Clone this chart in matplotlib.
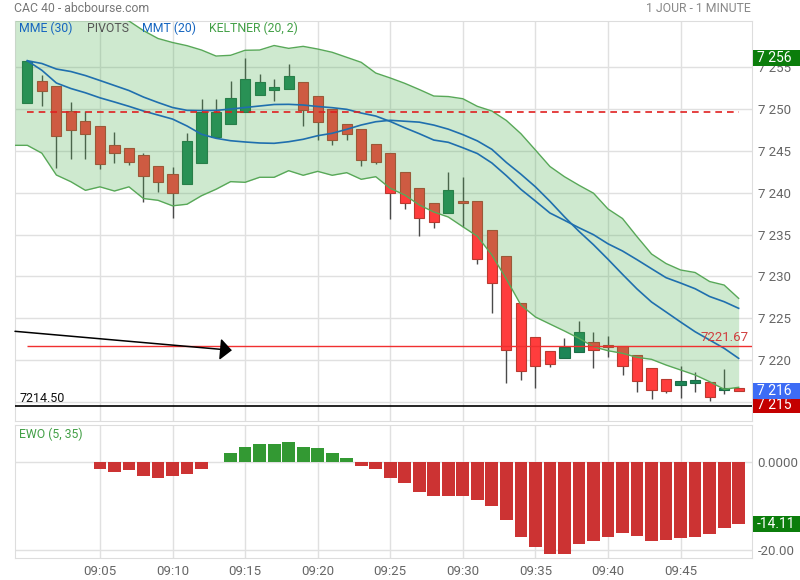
import numpy as np
import matplotlib.pyplot as plt
from matplotlib.patches import Rectangle
from matplotlib.ticker import FuncFormatter

plt.rcParams['font.family'] = ['Roboto', 'DejaVu Sans']

# CAC 40, bougies 1 minute de 09:00 a 09:49
opens = [7250.68, 7253.31, 7252.71, 7249.73, 7248.53, 7247.93, 7245.66, 7245.30, 7244.47, 7243.15,
         7242.20, 7241.07, 7243.58, 7246.62, 7248.17, 7249.68, 7251.64, 7252.31, 7252.43, 7253.19,
         7251.52, 7250.00, 7248.17, 7247.57, 7245.78, 7244.71, 7242.43, 7240.53, 7238.73, 7237.63,
         7238.97, 7238.97, 7235.50, 7232.40, 7226.78, 7222.72, 7221.04, 7220.20, 7220.92, 7222.12,
         7221.79, 7221.67, 7220.60, 7219.01, 7217.69, 7216.98, 7217.22, 7217.34, 7216.47, 7216.62]
highs = [7255.77, 7254.10, 7252.71, 7250.84, 7249.76, 7247.93, 7247.25, 7245.30, 7244.71, 7243.15,
         7243.07, 7247.13, 7251.16, 7251.16, 7253.35, 7256.10, 7254.18, 7253.55, 7255.38, 7253.19,
         7251.52, 7250.00, 7248.17, 7247.57, 7245.78, 7244.71, 7242.43, 7240.53, 7238.73, 7242.47,
         7241.87, 7238.97, 7235.50, 7232.40, 7226.78, 7222.72, 7221.04, 7222.59, 7224.66, 7223.35,
         7222.90, 7221.67, 7220.60, 7219.01, 7217.69, 7219.25, 7218.57, 7217.34, 7218.92, 7216.62]
lows = [7250.68, 7250.39, 7242.98, 7244.06, 7244.06, 7242.86, 7243.58, 7243.31, 7238.92, 7240.12,
        7237.03, 7241.07, 7243.58, 7246.62, 7248.17, 7249.68, 7251.64, 7250.99, 7252.43, 7248.00,
        7246.33, 7245.73, 7246.33, 7243.22, 7243.43, 7236.91, 7237.99, 7234.86, 7235.72, 7237.63,
        7235.93, 7231.44, 7225.65, 7217.22, 7217.61, 7216.60, 7219.20, 7220.20, 7220.92, 7219.08,
        7220.40, 7218.21, 7216.21, 7215.38, 7216.09, 7215.50, 7216.18, 7215.07, 7215.90, 7216.26]
closes = [7255.77, 7252.19, 7246.81, 7247.45, 7247.05, 7243.46, 7244.78, 7243.63, 7241.96, 7241.24,
          7240.00, 7246.14, 7249.61, 7249.61, 7251.28, 7253.55, 7253.19, 7252.59, 7253.94, 7249.92,
          7248.41, 7246.26, 7246.98, 7243.87, 7243.63, 7240.00, 7238.71, 7236.94, 7236.55, 7240.30,
          7238.80, 7232.04, 7229.17, 7221.14, 7218.65, 7219.34, 7219.49, 7221.56, 7223.31, 7221.23,
          7221.59, 7219.32, 7217.46, 7216.38, 7216.33, 7217.46, 7217.61, 7215.61, 7216.57, 7216.26]

# Keltner (20, 2)
kelt_up = [7266.61, 7265.42, 7264.22, 7263.39, 7262.43, 7261.71, 7261.12, 7260.52, 7259.37, 7258.43,
           7257.95, 7257.57, 7257.05, 7256.33, 7256.42, 7257.02, 7257.05, 7257.59, 7257.25, 7257.49,
           7257.17, 7256.78, 7256.18, 7255.58, 7254.30, 7253.71, 7253.07, 7252.33, 7251.55, 7251.49,
           7251.23, 7250.32, 7249.76, 7248.63, 7247.05, 7245.10, 7243.13, 7241.91, 7240.89, 7239.94,
           7238.05, 7236.91, 7234.74, 7232.67, 7231.53, 7230.76, 7230.46, 7229.38, 7228.96, 7227.37]
kelt_low = [7245.66, 7244.72, 7242.11, 7241.31, 7240.28, 7240.70, 7240.20, 7240.70, 7239.30, 7239.09,
            7238.43, 7238.62, 7239.64, 7240.41, 7241.32, 7241.24, 7241.84, 7241.84, 7242.63, 7242.08,
            7242.55, 7242.08, 7242.39, 7241.60, 7241.91, 7240.52, 7239.72, 7238.53, 7237.69, 7237.09,
            7235.93, 7234.79, 7232.55, 7229.68, 7226.57, 7225.14, 7224.30, 7223.47, 7222.59, 7221.59,
            7221.11, 7220.80, 7220.32, 7220.08, 7219.40, 7218.81, 7218.21, 7217.41, 7216.50, 7216.74]

# moyennes mobiles
mme30 = [7255.77, 7255.44, 7254.78, 7254.48, 7254.00, 7253.41, 7252.81, 7252.21, 7251.43, 7250.78,
         7250.18, 7249.84, 7249.81, 7249.83, 7250.00, 7250.18, 7250.36, 7250.54, 7250.56, 7250.48,
         7250.30, 7250.16, 7249.96, 7249.52, 7249.16, 7248.51, 7247.76, 7247.05, 7246.29, 7246.02,
         7245.37, 7244.68, 7243.55, 7242.03, 7240.40, 7239.00, 7237.57, 7236.70, 7235.81, 7234.98,
         7233.89, 7233.03, 7231.99, 7230.91, 7229.84, 7229.20, 7228.52, 7227.59, 7226.97, 7226.18]
mmt20 = [7255.77, 7254.63, 7253.11, 7252.45, 7251.94, 7251.34, 7250.84, 7250.32, 7249.76, 7249.28,
         7248.80, 7247.97, 7246.98, 7246.50, 7246.21, 7246.06, 7245.94, 7245.90, 7246.09, 7246.38,
         7246.81, 7247.10, 7247.57, 7248.09, 7248.48, 7248.65, 7248.54, 7248.43, 7248.08, 7247.59,
         7246.94, 7246.19, 7245.18, 7243.61, 7242.21, 7240.70, 7238.97, 7237.12, 7235.38, 7233.78,
         7232.04, 7230.24, 7228.49, 7226.93, 7225.74, 7224.54, 7223.38, 7222.39, 7221.40, 7220.20]

# EWO (5, 35)
ewo = [np.nan, np.nan, np.nan, np.nan, np.nan, -1.5, -2.2, -1.75, -3.1, -3.6,
       -3.1, -2.7, -1.5, 0.0, 2.05, 3.4, 4.1, 4.1, 4.5, 3.4,
       3.2, 2.05, 0.9, -0.85, -1.5, -3.6, -4.7, -6.75, -7.65, -7.65,
       -7.65, -8.55, -9.9, -13.1, -17.0, -19.25, -20.8, -20.8, -18.6, -17.9,
       -17.0, -16.1, -16.75, -17.9, -17.65, -17.2, -17.0, -16.3, -14.9, -14.11]

pivot = 7249.61
level_red = 7221.67
level_black = 7214.50
day_high = 7256
day_low = 7215
tick_pos = [5, 10, 15, 20, 25, 30, 35, 40, 45]
tick_labels = ['09:05', '09:10', '09:15', '09:20', '09:25', '09:30', '09:35', '09:40', '09:45']
arrow_start = (-0.85, 7223.43)
arrow_end = (14.09, 7221.16)

W, H = 800, 580
fig = plt.figure(figsize=(W / 100, H / 100), dpi=100)
ax = fig.add_axes([15 / W, 1 - 421 / H, 737 / W, 400 / H])
ax2 = fig.add_axes([15 / W, 1 - 558 / H, 737 / W, 133 / H])

x = np.arange(len(opens))
xmin, xmax = -0.85, 49.92

# bougies
for i in x:
    o, c = opens[i], closes[i]
    up = c >= o
    col = '#1d8657' if up else '#ff3d3d'
    edge = '#1b6e47' if up else '#b83a30'
    ax.vlines(i, lows[i], highs[i], color='#4a4a4a', lw=1, zorder=2)
    body = max(abs(c - o), 0.22)
    ax.bar(i, body, bottom=min(o, c), width=0.7, color=col, edgecolor=edge, lw=0.8, zorder=3)

# bande de Keltner
xb = np.r_[xmin, x]
up_b = np.r_[kelt_up[0], kelt_up]
lo_b = np.r_[kelt_low[0], kelt_low]
ax.fill_between(xb, lo_b, up_b, color='#4caf50', alpha=0.27, lw=0, zorder=4)
ax.plot(xb, up_b, color='#58a858', lw=1, zorder=5)
ax.plot(xb, lo_b, color='#58a858', lw=1, zorder=5)

ax.plot(x, mme30, color='#1f6fae', lw=1.2, zorder=6)
ax.plot(x, mmt20, color='#1f6fae', lw=1.2, zorder=6)

ax.hlines(pivot, 0, 49, colors='#e02020', lw=1.2, linestyles=(0, (4, 3)), zorder=6)
ax.hlines(level_red, 0, xmax, colors='#f03030', lw=1, zorder=6)
ax.hlines(level_black, xmin, xmax, colors='black', lw=1.2, zorder=6)
ax.annotate('', xy=arrow_end, xytext=arrow_start, annotation_clip=False,
            arrowprops=dict(arrowstyle='-|>,head_length=0.6,head_width=0.55', color='black',
                            lw=1.1, mutation_scale=12, shrinkA=0, shrinkB=0), zorder=7)

ax.set_xlim(xmin, xmax)
ax.set_ylim(7212.71, 7260.52)
ax.set_yticks(range(7215, 7260, 5))
ax.yaxis.set_major_formatter(FuncFormatter(lambda v, p: f'{int(v):,}'.replace(',', ' ')))
ax.set_xticks(tick_pos)
ax.tick_params(axis='x', length=0, labelbottom=False)
ax.tick_params(axis='y', left=False, labelleft=False, right=True, labelright=True,
               length=0, pad=4, labelsize=9.5, labelcolor='#666666')

# EWO
ewo_arr = np.array(ewo)
cols = ['#339933' if v > 0 else '#cc3333' for v in np.nan_to_num(ewo_arr)]
ax2.bar(x, np.nan_to_num(ewo_arr), width=0.88, color=cols, zorder=3)
ax2.set_xlim(xmin, xmax)
ax2.set_ylim(-21.8, 8.41)
ax2.set_yticks([0, -20])
ax2.set_yticklabels(['0.0000', '-20.00'])
ax2.set_xticks(tick_pos)
ax2.set_xticklabels(tick_labels)
ax2.tick_params(axis='x', length=0, pad=5, labelsize=9.5, labelcolor='#666666')
ax2.tick_params(axis='y', left=False, labelleft=False, right=True, labelright=True,
                length=0, pad=4, labelsize=9.5, labelcolor='#666666')

for a in (ax, ax2):
    a.grid(color='#e0e0e0', lw=1, zorder=0)
    a.set_axisbelow(True)
    for s in a.spines.values():
        s.set_color('#dddddd')

# textes
def ftext(px, py, s, **kw):
    fig.text(px / W, 1 - py / H, s, va='center', **kw)

ftext(14, 9, 'CAC 40 - abcbourse.com', color='#777777', fontsize=8.8)
ftext(751, 9, '1 JOUR - 1 MINUTE', color='#888888', fontsize=8.8, ha='right')
ftext(19, 28, 'MME (30)', color='#1565c0', fontsize=8.8)
ftext(87, 28, 'PIVOTS', color='#555555', fontsize=8.8)
ftext(142, 28, 'MMT (20)', color='#1565c0', fontsize=8.8)
ftext(209, 28, 'KELTNER (20, 2)', color='#43a047', fontsize=8.8)
ftext(19, 434, 'EWO (5, 35)', color='#43a047', fontsize=8.8)
ftext(19, 399, f'{level_black:.2f}', color='#111111', fontsize=9)
ax.text(xmax - 0.25, level_red + 0.25, f'{level_red:.2f}', color='#d04040', fontsize=9.5,
        ha='right', va='bottom', zorder=8)

# etiquettes de prix a droite
def price_box(a, value, text, color, dy=0, z=10):
    yd = a.transData.transform((0, value))[1] - dy
    fig.patches.append(Rectangle((753 / W, (yd - 8) / H), 47 / W, 16 / H, transform=fig.transFigure,
                                 facecolor=color, edgecolor='none', zorder=z))
    fig.text(757 / W, yd / H, text, color='white', fontsize=10, va='center', ha='left', zorder=z + 1)

price_box(ax, day_high + 0.1, '7 256', '#0b7d0b')
price_box(ax, day_low + 0.07, '7 215', '#c40000', dy=3.5, z=10)
price_box(ax, closes[-1], '7 216', '#3d6cf5', z=12)
price_box(ax2, ewo[-1], f'{ewo[-1]:.2f}', '#0b7d0b')

fig.savefig('out.png', dpi=100)
